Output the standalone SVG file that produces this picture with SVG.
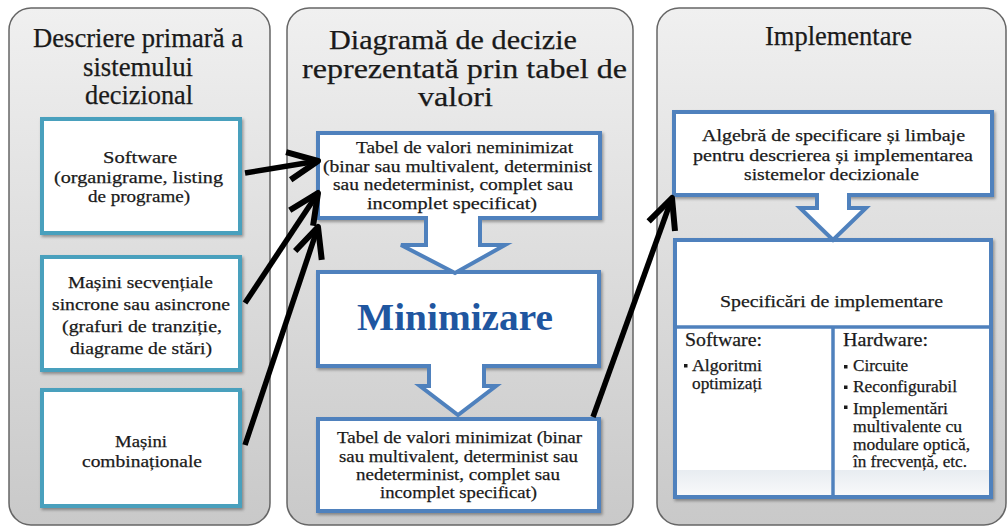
<svg xmlns="http://www.w3.org/2000/svg" width="1008" height="529" viewBox="0 0 1008 529">
  <defs>
    <linearGradient id="panelFill" x1="0" y1="0" x2="0" y2="1">
      <stop offset="0" stop-color="#f0f0f0"/>
      <stop offset="1" stop-color="#c9c9c9"/>
    </linearGradient>
    <linearGradient id="cellBand" x1="0" y1="0" x2="0" y2="1">
      <stop offset="0" stop-color="#e8ecf1"/>
      <stop offset="1" stop-color="#f8f9fa"/>
    </linearGradient>
    <filter id="shadow" x="-10%" y="-10%" width="120%" height="130%">
      <feDropShadow dx="1.5" dy="2" stdDeviation="1.5" flood-color="#000" flood-opacity="0.35"/>
    </filter>
    <marker id="openHead" markerUnits="userSpaceOnUse" orient="auto" markerWidth="44" markerHeight="44" viewBox="-37 -22 44 44" refX="0" refY="0" overflow="visible">
      <path d="M-30,-14 L0,0 L-30,14" fill="none" stroke="#000" stroke-width="6" stroke-linejoin="round" stroke-linecap="butt"/>
    </marker>
    <style>
      .panel { fill: url(#panelFill); stroke: #666; stroke-width: 1.5; }
      .tealbox { fill: #fff; stroke: #4aa0bd; stroke-width: 4; filter: url(#shadow); }
      .bluebox { fill: #fff; stroke: #4f81bd; stroke-width: 4; filter: url(#shadow); }
      .divider { stroke: #4f81bd; stroke-width: 3.5; }
      text { font-family: "Liberation Serif", "Times New Roman", serif; fill: #1a1a1a; stroke: #1a1a1a; stroke-width: 0.25; }
      .title { font-size: 27px; text-anchor: middle; }
      .body { font-size: 17px; text-anchor: middle; }
      .head { font-size: 19px; }
      .item { font-size: 16px; }
      .big { font-size: 38px; font-weight: bold; fill: #1f56a0; stroke: none; text-anchor: middle; }
      .bullet { fill: #1a1a1a; }
      .blockarrow { fill: #fff; stroke: #4f81bd; stroke-width: 4; stroke-linejoin: miter; }
      .conn { fill: none; stroke: #000; stroke-width: 5.5; stroke-linecap: butt; marker-end: url(#openHead); }
    </style>
  </defs>

  <rect x="0" y="0" width="1008" height="529" fill="#fff"/>

  <!-- column 1: primary description -->
  <g id="panel-descriere">
    <rect class="panel" x="9" y="8" width="261" height="517" rx="22"/>
    <text class="title" x="138" y="47" textLength="210" lengthAdjust="spacingAndGlyphs">Descriere primară a</text>
    <text class="title" x="138" y="75.5" textLength="110" lengthAdjust="spacingAndGlyphs">sistemului</text>
    <text class="title" x="139" y="104" textLength="108" lengthAdjust="spacingAndGlyphs">decizional</text>
  </g>

  <g id="node-software">
    <rect class="tealbox" x="42" y="119" width="198" height="114"/>
    <text class="body" x="140" y="163" textLength="74" lengthAdjust="spacingAndGlyphs">Software</text>
    <text class="body" x="138.5" y="183" textLength="169" lengthAdjust="spacingAndGlyphs">(organigrame, listing</text>
    <text class="body" x="139" y="202" textLength="102" lengthAdjust="spacingAndGlyphs">de programe)</text>
  </g>

  <g id="node-secventiale">
    <rect class="tealbox" x="42" y="257" width="198" height="113"/>
    <text class="body" x="140.5" y="288" textLength="145" lengthAdjust="spacingAndGlyphs">Mașini secvențiale</text>
    <text class="body" x="141" y="310" textLength="178" lengthAdjust="spacingAndGlyphs">sincrone sau asincrone</text>
    <text class="body" x="142" y="332" textLength="160" lengthAdjust="spacingAndGlyphs">(grafuri de tranziție,</text>
    <text class="body" x="141" y="354" textLength="142" lengthAdjust="spacingAndGlyphs">diagrame de stări)</text>
  </g>

  <g id="node-combinationale">
    <rect class="tealbox" x="42" y="390" width="198" height="116"/>
    <text class="body" x="141" y="447" textLength="52" lengthAdjust="spacingAndGlyphs">Mașini</text>
    <text class="body" x="142" y="467" textLength="120" lengthAdjust="spacingAndGlyphs">combinaționale</text>
  </g>

  <!-- column 2: decision diagram as a value table -->
  <g id="panel-diagrama">
    <rect class="panel" x="287" y="8" width="346" height="517" rx="22"/>
    <text class="title" x="453" y="49" textLength="248" lengthAdjust="spacingAndGlyphs">Diagramă de decizie</text>
    <text class="title" x="464.5" y="78" textLength="325" lengthAdjust="spacingAndGlyphs">reprezentată prin tabel de</text>
    <text class="title" x="455.5" y="105.5" textLength="75" lengthAdjust="spacingAndGlyphs">valori</text>
  </g>

  <g id="node-neminimizat">
    <rect class="bluebox" x="318" y="133" width="282" height="85"/>
    <text class="body" x="464.5" y="153" textLength="217" lengthAdjust="spacingAndGlyphs">Tabel de valori neminimizat</text>
    <text class="body" x="457.5" y="171.5" textLength="269" lengthAdjust="spacingAndGlyphs">(binar sau multivalent, determinist</text>
    <text class="body" x="453" y="190" textLength="240" lengthAdjust="spacingAndGlyphs">sau nedeterminist, complet sau</text>
    <text class="body" x="452" y="208.5" textLength="170" lengthAdjust="spacingAndGlyphs">incomplet specificat)</text>
  </g>

  <g id="node-minimizare">
    <rect class="bluebox" x="318" y="272" width="281" height="94"/>
    <text class="big" x="455" y="330" textLength="196" lengthAdjust="spacingAndGlyphs">Minimizare</text>
  </g>

  <g id="node-minimizat">
    <rect class="bluebox" x="318" y="419" width="281" height="92"/>
    <text class="body" x="459.5" y="443" textLength="245" lengthAdjust="spacingAndGlyphs">Tabel de valori minimizat (binar</text>
    <text class="body" x="458.5" y="461.5" textLength="239" lengthAdjust="spacingAndGlyphs">sau multivalent, determinist sau</text>
    <text class="body" x="458" y="480" textLength="204" lengthAdjust="spacingAndGlyphs">nedeterminist, complet sau</text>
    <text class="body" x="458.5" y="498" textLength="157" lengthAdjust="spacingAndGlyphs">incomplet specificat)</text>
  </g>

  <!-- column 3: implementation -->
  <g id="panel-implementare">
    <rect class="panel" x="657" y="8" width="349" height="517" rx="22"/>
    <text class="title" x="838.5" y="45" textLength="147" lengthAdjust="spacingAndGlyphs">Implementare</text>
  </g>

  <g id="node-algebra">
    <rect class="bluebox" x="674" y="112" width="318" height="83"/>
    <text class="body" x="833.5" y="140.5" textLength="263" lengthAdjust="spacingAndGlyphs">Algebră de specificare și limbaje</text>
    <text class="body" x="833" y="160.5" textLength="280" lengthAdjust="spacingAndGlyphs">pentru descrierea și implementarea</text>
    <text class="body" x="831.5" y="180" textLength="175" lengthAdjust="spacingAndGlyphs">sistemelor decizionale</text>
  </g>

  <g id="node-specificari">
    <rect class="bluebox" x="675" y="240" width="316" height="257"/>
    <rect x="677" y="470" width="154" height="25" fill="url(#cellBand)"/>
    <rect x="835" y="470" width="154" height="25" fill="url(#cellBand)"/>
    <line class="divider" x1="675" y1="327" x2="991" y2="327"/>
    <line class="divider" x1="833" y1="327" x2="833" y2="497"/>
    <text class="body" x="831.5" y="307" font-size="18" textLength="223" lengthAdjust="spacingAndGlyphs">Specificări de implementare</text>

    <text class="head" x="685" y="346" textLength="77" lengthAdjust="spacingAndGlyphs">Software:</text>
    <rect class="bullet" x="684" y="364" width="3.5" height="3.5"/>
    <text class="item" x="692" y="371" textLength="70" lengthAdjust="spacingAndGlyphs">Algoritmi</text>
    <text class="item" x="692" y="389" textLength="70" lengthAdjust="spacingAndGlyphs">optimizați</text>

    <text class="head" x="843" y="346" textLength="85" lengthAdjust="spacingAndGlyphs">Hardware:</text>
    <rect class="bullet" x="844" y="365" width="3.5" height="3.5"/>
    <text class="item" x="853" y="371" textLength="55" lengthAdjust="spacingAndGlyphs">Circuite</text>
    <rect class="bullet" x="844" y="385.5" width="3.5" height="3.5"/>
    <text class="item" x="853" y="392" textLength="104" lengthAdjust="spacingAndGlyphs">Reconfigurabil</text>
    <rect class="bullet" x="844" y="405.5" width="3.5" height="3.5"/>
    <text class="item" x="853" y="414" textLength="95" lengthAdjust="spacingAndGlyphs">Implementări</text>
    <text class="item" x="853" y="432" textLength="109" lengthAdjust="spacingAndGlyphs">multivalente cu</text>
    <text class="item" x="853" y="450" textLength="117" lengthAdjust="spacingAndGlyphs">modulare optică,</text>
    <text class="item" x="853" y="467" textLength="114" lengthAdjust="spacingAndGlyphs">în frecvență, etc.</text>
  </g>

  <!-- connectors: block arrows inside the columns, line arrows between them -->
  <g id="connectors">
    <path class="blockarrow" d="M426,216 L426,245 L401,245 L455,273 L505,245 L480,245 L480,216"/>
    <path class="blockarrow" d="M429,364 L429,386 L420,386 L458,415 L496,386 L484,386 L484,364"/>
    <path class="blockarrow" d="M817,193 L817,208 L800,208 L833,240 L866,208 L849,208 L849,193"/>

    <line class="conn" x1="245" y1="173" x2="318" y2="161"/>
    <line class="conn" x1="245" y1="303" x2="318" y2="193"/>
    <line class="conn" x1="245" y1="445" x2="318" y2="227"/>
    <line class="conn" x1="593" y1="417" x2="672" y2="198"/>
  </g>
</svg>
